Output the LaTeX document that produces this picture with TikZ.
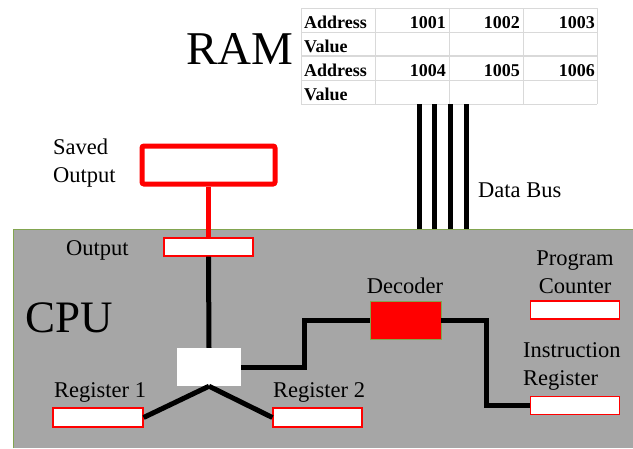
\documentclass[tikz,border=0pt]{standalone}
\usepackage{fontspec}
\setmainfont{Liberation Serif}
\definecolor{cpugray}{RGB}{166,166,166}
\definecolor{cpuedge}{RGB}{130,165,80}
\definecolor{gridgray}{RGB}{217,217,217}
\definecolor{pured}{RGB}{255,0,0}
\begin{document}
\begin{tikzpicture}[x=1pt,y=-1pt,
  reg/.style={draw=pured, fill=white, line width=1.2pt, minimum width=89pt, minimum height=18pt, inner sep=0pt},
  wire/.style={line width=5pt, black, line join=miter},
  redwire/.style={line width=5pt, pured},
  bus/.style={line width=5pt, black},
  lbl/.style={inner sep=0pt, font=\fontsize{22.5}{28}\selectfont},
  tbl/.style={inner sep=0pt, font=\bfseries\fontsize{18}{20}\selectfont},
  grid/.style={draw=gridgray, line width=0.8pt}]
\useasboundingbox (0,0) rectangle (633,448);

% CPU area
\fill[cpugray] (13,229) rectangle (633,448);
\draw[cpuedge, line width=1pt] (13,448) -- (13,229) -- (633,229);
\coordinate (cputop) at (0,229);

% RAM table
\fill[white] (301,8) rectangle (597,104);
\foreach \y in {8,32,56,80,104} \draw[grid] (301,\y) -- (597,\y);
\draw[grid, line width=1.6pt] (301,56) -- (597,56);
\foreach \x in {301,375,449,523,597} \draw[grid] (\x,8) -- (\x,104);
\coordinate (tablebottom) at (0,104);

\node[tbl, anchor=base west] (a1) at (304,28) {Address};
\node[tbl, anchor=base west] (v1) at (304,52) {Value};
\node[tbl, anchor=base west] (a2) at (304,76) {Address};
\node[tbl, anchor=base west] (v2) at (304,100) {Value};
\node[tbl, anchor=base east] (n1001) at (446,28) {1001};
\node[tbl, anchor=base east] (n1002) at (520,28) {1002};
\node[tbl, anchor=base east] (n1003) at (595,28) {1003};
\node[tbl, anchor=base east] (n1004) at (446,76) {1004};
\node[tbl, anchor=base east] (n1005) at (520,76) {1005};
\node[tbl, anchor=base east] (n1006) at (595,76) {1006};

\node[inner sep=0pt, anchor=base west, font=\fontsize{47}{50}\selectfont] (ram) at (186,64) {RAM};

% data bus
\foreach \x in {419,434,450,466}
  \draw[bus] (\x,0 |- tablebottom) -- (\x,0 |- cputop);
\node[lbl, anchor=base west] (databus) at (478,197) {Data Bus};

% Saved output
\node[draw=pured, line width=5pt, rounded corners=2pt, minimum width=133pt, minimum height=38pt, inner sep=0pt] (saved) at (208.5,165) {};
\node[lbl, anchor=west, align=left] (savedlbl) at (53,163) {Saved\\Output};

% CPU contents
\node[inner sep=0pt, anchor=base west, font=\fontsize{45}{48}\selectfont] (cpu) at (25,332) {CPU};

\node[reg] (output) at (208.5,247) {};
\node[lbl, anchor=base west] (outputlbl) at (66,255) {Output};

\node[fill=white, minimum width=64pt, minimum height=38pt, inner sep=0pt] (alu) at (209,367) {};

\node[fill=pured, draw=cpuedge, line width=0.8pt, minimum width=71pt, minimum height=38pt, inner sep=0pt] (decoder) at (405.5,320) {};
\node[lbl, anchor=base] (decoderlbl) at (405,293) {Decoder};

\node[reg] (pc) at (575,310) {};
\node[lbl, align=center] (pclbl) at (575,272) {Program\\Counter};

\node[reg] (ir) at (575,405.5) {};
\node[lbl, anchor=west, align=left] (irlbl) at (523,366) {Instruction\\Register};

\node[reg, minimum height=19pt, minimum width=90pt] (reg1) at (98,417.5) {};
\node[lbl, anchor=base west] (reg1lbl) at (54,397) {Register 1};

\node[reg, minimum height=19pt] (reg2) at (317.5,417.5) {};
\node[lbl, anchor=base west] (reg2lbl) at (273,397) {Register 2};

% connectors
\draw[redwire] (saved.south) -- (output.north);
\draw[wire] (output.south) -- (alu.north);
\draw[wire] (alu.east) -- ++(63,0) |- (decoder.west);
\draw[wire] (decoder.east) -- ++(45,0) |- (ir.west);
\draw[wire] (alu.south) -- (reg1.east);
\draw[wire] (alu.south) -- (reg2.west);
\end{tikzpicture}
\end{document}
